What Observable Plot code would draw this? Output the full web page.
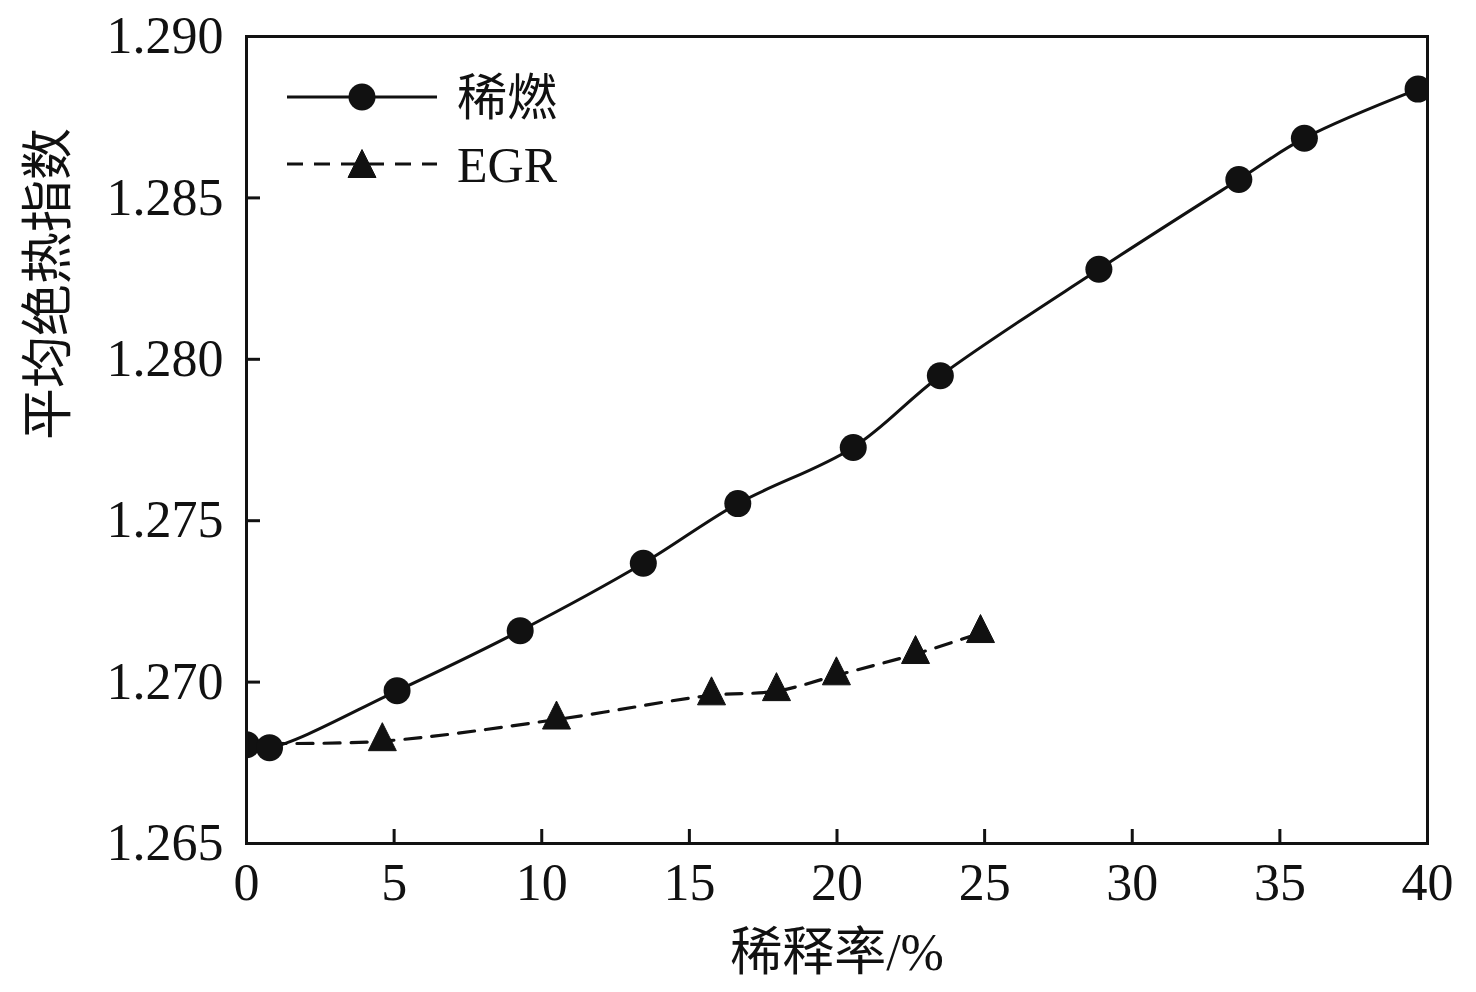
<!DOCTYPE html>
<html>
<head>
<meta charset="utf-8">
<script src="https://cdn.jsdelivr.net/npm/d3@7"></script>
<script src="https://cdn.jsdelivr.net/npm/@observablehq/plot@0.6"></script>
<style>
  html, body { margin: 0; padding: 0; background: #fff; }
  #chart { width: 1476px; height: 992px; }
</style>
</head>
<body>
<div id="chart"></div>
<script>
const leanX = [0, 0.78, 5.1, 9.27, 13.44, 16.64, 20.55, 23.5, 28.87, 33.61, 35.83, 39.68];
const leanY = [1.26806, 1.26797, 1.26973, 1.27159, 1.27368, 1.27553, 1.27727, 1.27949, 1.28279, 1.28557, 1.28685, 1.28837];
const egrX = [0.8, 4.6, 10.5, 15.75, 17.95, 19.98, 22.66, 24.86];
const egrY = [1.26810, 1.26817, 1.26884, 1.26959, 1.26972, 1.27021, 1.27087, 1.27152];
const xTicks = [0, 5, 10, 15, 20, 25, 30, 35, 40];
const yTicks = [1.265, 1.270, 1.275, 1.280, 1.285, 1.290];
const seriesNames = ["稀燃", "EGR"];
const xLabel = "稀释率/%";
const yLabel = "平均绝热指数";

const lean = leanX.map((x, i) => ({x, y: leanY[i]}));
const egr = egrX.map((x, i) => ({x, y: egrY[i], i}));

const W = 1476, H = 992, mL = 246, mR = 49, mT = 36, mB = 149;
const fw = W - mL - mR, fh = H - mT - mB;
const ink = "#111";
const font = "'Liberation Serif', 'Noto Sans CJK SC', serif";

// slightly tall triangle, centred on its centroid
const tallTriangle = {
  draw(ctx) {
    ctx.moveTo(0, -18.5);
    ctx.lineTo(14, 9.5);
    ctx.lineTo(-14, 9.5);
    ctx.closePath();
  }
};

const plot = Plot.plot({
  width: W, height: H,
  marginLeft: mL, marginRight: mR, marginTop: mT, marginBottom: mB,
  style: {fontFamily: font, color: ink, background: "#fff"},
  x: {domain: [0, 40]},
  y: {domain: [1.265, 1.290]},
  marks: [
    Plot.axisX({ticks: xTicks, tickSize: 0, tickPadding: 20, fontSize: 52, label: null, fill: ink}),
    Plot.axisY({ticks: yTicks, tickSize: 0, tickPadding: 23, fontSize: 52, label: null, tickFormat: d3.format(".3f"), fill: ink}),
    Plot.tickX(xTicks, {x: d => d, insetTop: fh - 14, stroke: ink, strokeWidth: 3}),
    Plot.tickY(yTicks, {y: d => d, insetRight: fw - 14, stroke: ink, strokeWidth: 3}),
    Plot.line(egr, {x: "x", y: "y", curve: "catmull-rom", stroke: ink, strokeWidth: 3.2, strokeDasharray: "16,11"}),
    Plot.line(lean, {x: "x", y: "y", curve: "catmull-rom", stroke: ink, strokeWidth: 3}),
    Plot.dot(egr, {filter: d => d.i > 0, x: "x", y: "y", symbol: tallTriangle, fill: ink, stroke: ink, strokeWidth: 1, strokeLinejoin: "round"}),
    Plot.dot(lean, {x: "x", y: "y", r: 13.5, fill: ink, clip: true}),
    Plot.frame({stroke: ink, strokeWidth: 3}),
    Plot.text([xLabel], {text: d => d, frameAnchor: "bottom", dy: 126, fontSize: 52, fill: ink}),
    Plot.text([yLabel], {text: d => d, frameAnchor: "left", dx: -197, rotate: -90, fontSize: 52, fill: ink})
  ]
});

// legend inside plot area
const svg = d3.select(plot);
const lg = svg.append("g").attr("class", "legend");
const rows = [{y: 97, dash: null, sym: "circle"}, {y: 164, dash: "16,11", sym: "triangle"}];
rows.forEach((r, k) => {
  lg.append("line").attr("x1", 287).attr("x2", 437).attr("y1", r.y).attr("y2", r.y)
    .attr("stroke", ink).attr("stroke-width", 3).attr("stroke-dasharray", r.dash);
  if (r.sym === "circle") {
    lg.append("circle").attr("cx", 362).attr("cy", r.y).attr("r", 13.5).attr("fill", ink);
  } else {
    lg.append("path").attr("transform", `translate(362,${r.y + 4})`)
      .attr("d", d3.symbol(tallTriangle)())
      .attr("fill", ink).attr("stroke", ink).attr("stroke-width", 1);
  }
  lg.append("text").attr("x", 457).attr("y", r.y).attr("dy", "0.35em")
    .attr("text-anchor", "start")
    .attr("font-size", 50).attr("fill", ink).attr("font-family", font).text(seriesNames[k]);
});

document.getElementById("chart").appendChild(plot);
</script>
</body>
</html>
